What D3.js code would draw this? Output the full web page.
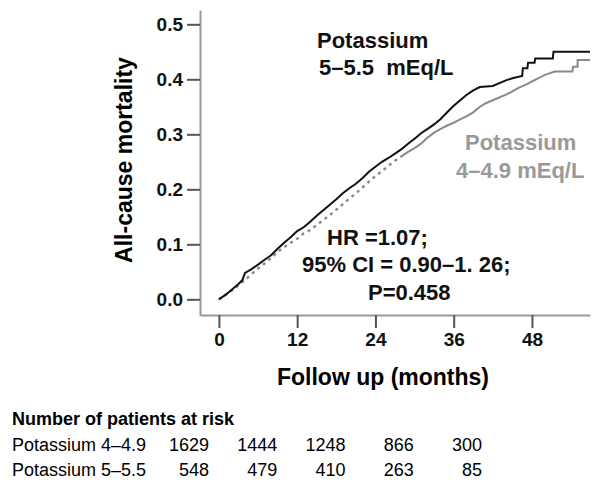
<!DOCTYPE html>
<html>
<head>
<meta charset="utf-8">
<style>
body{
    margin: 0;
    background: #fff;
}
text{
    font-family: "Liberation Sans", Arial, sans-serif;
}
</style>
</head>
<body>
<svg id="km"></svg>

<script src="https://cdn.jsdelivr.net/npm/d3@7/dist/d3.min.js"></script>
<script>
// Potassium 5-5.5 mEq/L (black line)
var monthsHigh = [0, 1, 2, 3, 3.6, 4, 5, 6, 7, 8, 9, 10, 11, 12, 13, 14, 15, 16, 17, 18, 19, 20,
    21, 22, 23, 24, 25, 26, 27, 28, 29, 30, 31, 32, 33, 34, 35, 36, 37, 38, 39, 40, 42,
    43, 44, 45, 46.5, 46.6, 47.3, 47.4, 48.4, 48.5, 51.2, 51.3, 56.9];
var mortalityHigh = [0, 0.008, 0.018, 0.028, 0.035, 0.048, 0.055, 0.063, 0.072, 0.08, 0.092, 0.103,
    0.113, 0.124, 0.131, 0.141, 0.152, 0.162, 0.172, 0.182, 0.193, 0.202, 0.21, 0.22, 0.232, 0.241,
    0.25, 0.257, 0.265, 0.273, 0.283, 0.292, 0.302, 0.31, 0.318, 0.328, 0.34, 0.352, 0.362, 0.372,
    0.38, 0.386, 0.388, 0.393, 0.398, 0.402, 0.406, 0.42, 0.42, 0.43, 0.43, 0.438, 0.438, 0.45, 0.45];

// Potassium 4-4.9 mEq/L (grey line)
var monthsNormal = [0, 2, 4, 5, 6, 7, 8, 9, 10, 11, 12, 13, 14, 15, 16, 17, 18, 19, 20, 21, 22, 23,
    24, 25, 26, 27, 28, 29, 30, 31, 32, 33, 34, 35, 36, 37, 38, 39, 40, 41, 42, 43, 44, 45, 46, 47,
    48, 49, 50, 51.5, 54.2, 54.3, 55, 55, 56.9];
var mortalityNormal = [0, 0.016, 0.035, 0.046, 0.056, 0.065, 0.075, 0.086, 0.095, 0.103, 0.11, 0.12,
    0.126, 0.135, 0.144, 0.153, 0.163, 0.173, 0.183, 0.193, 0.203, 0.214, 0.224, 0.233, 0.243, 0.252,
    0.26, 0.268, 0.275, 0.283, 0.294, 0.303, 0.31, 0.316, 0.321, 0.327, 0.333, 0.34, 0.35, 0.357,
    0.362, 0.367, 0.372, 0.378, 0.385, 0.39, 0.396, 0.402, 0.408, 0.414, 0.414, 0.423, 0.423, 0.435, 0.435];

var xTicks = [0, 12, 24, 36, 48];
var yTicks = [0, 0.1, 0.2, 0.3, 0.4, 0.5];

var riskLabels = ['Potassium 4\u20134.9', 'Potassium 5\u20135.5'];
var riskNormal = [1629, 1444, 1248, 866, 300];
var riskHigh = [548, 479, 410, 263, 85];

var width = 601;
var height = 487;

var svg = d3.select('#km')
    .attr('width', width)
    .attr('height', height);

// scales stretched a little past the ticks so the axis lines run long like the original
var x = d3.scaleLinear().domain([-2.9, 56.9]).range([200, 590]);
var y = d3.scaleLinear().domain([-0.0285, 0.526]).range([315, 10]);

// axes
var xAxis = svg.append('g')
    .attr('transform', 'translate(0,315)')
    .call(d3.axisBottom(x).tickValues(xTicks).tickSize(13).tickSizeOuter(0).tickPadding(5));
var yAxis = svg.append('g')
    .attr('transform', 'translate(200,0)')
    .call(d3.axisLeft(y).tickValues(yTicks).tickSize(13).tickSizeOuter(0).tickPadding(4)
        .tickFormat(d3.format('.1f')));

[xAxis, yAxis].forEach(function (g) {
    g.select('.domain').attr('stroke', '#999').attr('stroke-width', 2);
    g.selectAll('.tick line').attr('stroke', '#555').attr('stroke-width', 2);
    g.selectAll('.tick text')
        .attr('fill', '#111')
        .style('font-size', '19px')
        .style('font-weight', 'bold');
});

// axis titles
svg.append('text')
    .attr('x', 383).attr('y', 385)
    .attr('text-anchor', 'middle')
    .style('font-size', '23px').style('font-weight', 'bold')
    .text('Follow up (months)');
svg.append('text')
    .attr('transform', 'translate(132,160) rotate(-90)')
    .attr('text-anchor', 'middle')
    .style('font-size', '23px').style('font-weight', 'bold')
    .text('All-cause mortality');

// curves (the tail steps are kept as explicit points)
var line = d3.line()
    .x(function (d) { return x(d[0]); })
    .y(function (d) { return y(d[1]); });

var normal = d3.zip(monthsNormal, mortalityNormal);
var high = d3.zip(monthsHigh, mortalityHigh);

svg.append('path')
    .datum(normal.filter(function (d) { return d[0] <= 28; }))
    .attr('d', line)
    .attr('fill', 'none')
    .attr('stroke', '#8a8a8a')
    .attr('stroke-width', 2.4)
    .attr('stroke-dasharray', '3,4');
svg.append('path')
    .datum(normal.filter(function (d) { return d[0] >= 28; }))
    .attr('d', line)
    .attr('fill', 'none')
    .attr('stroke', '#8a8a8a')
    .attr('stroke-width', 2);

svg.append('path')
    .datum(high)
    .attr('d', line)
    .attr('fill', 'none')
    .attr('stroke', '#111')
    .attr('stroke-width', 2);

// labels on the plot
function label(txt, xp, yp, color) {
    svg.append('text')
        .attr('x', xp).attr('y', yp)
        .attr('fill', color)
        .style('font-size', '22px').style('font-weight', 'bold')
        .style('white-space', 'pre')
        .text(txt);
}
label('Potassium', 317, 48, '#111');
label('5\u20135.5  mEq/L', 319, 75, '#111');
label('Potassium', 465, 150, '#999');
label('4\u20134.9 mEq/L', 456, 178, '#999');
label('HR =1.07;', 327, 245, '#111');
label('95% CI = 0.90\u20131. 26;', 302, 272, '#111');
label('P=0.458', 368, 300, '#111');

// number at risk table
svg.append('text')
    .attr('x', 12).attr('y', 425)
    .style('font-size', '18px').style('font-weight', 'bold')
    .text('Number of patients at risk');

var col = d3.scalePoint().domain(xTicks).range([209, 482]);
var rows = [riskNormal, riskHigh];
rows.forEach(function (vals, i) {
    var yy = 451 + i * 25;
    svg.append('text')
        .attr('x', 12).attr('y', yy)
        .style('font-size', '18px')
        .text(riskLabels[i]);
    svg.selectAll(null).data(vals)
        .enter().append('text')
        .attr('x', function (d, j) { return col(xTicks[j]); })
        .attr('y', yy)
        .attr('text-anchor', 'end')
        .style('font-size', '18px')
        .text(function (d) { return d; });
});
</script>
</body>
</html>
